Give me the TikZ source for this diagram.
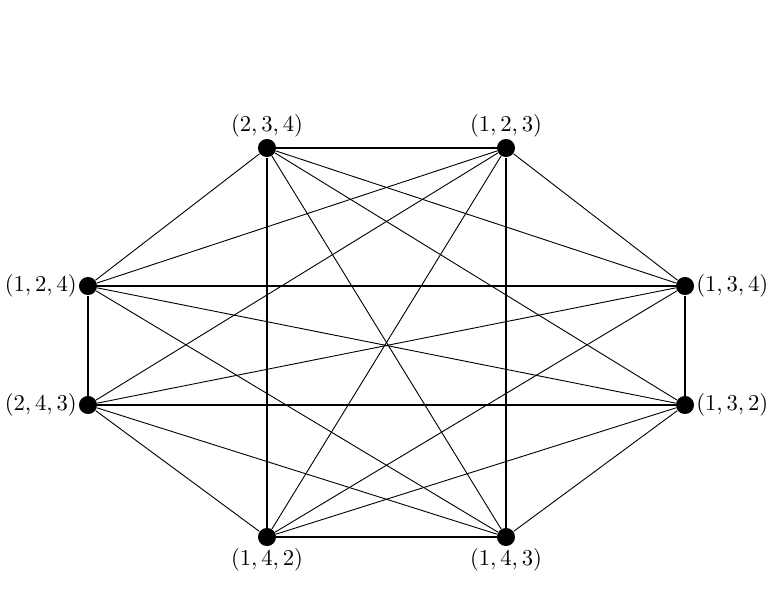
\documentclass[tikz,border=0pt]{standalone}
\usetikzlibrary{positioning}
\tikzset{vtx/.style={circle,fill=black,inner sep=0pt,minimum size=2.8mm},
 lab/.style={inner sep=0.6pt,font=\normalsize},
 rect/.style={thick}}
\begin{document}
\begin{tikzpicture}[x=0.1548mm,y=-0.1548mm]
\useasboundingbox (0,0) rectangle (777,592);
% vertices of the graph
\foreach \n/\x/\y/\p/\t in {v234/267/148/above/{2,3,4},v123/506/148/above/{1,2,3},
 v124/88/286/left/{1,2,4},v134/685/286/right/{1,3,4},v243/88/405/left/{2,4,3},
 v132/685/405/right/{1,3,2},v142/267/537/below/{1,4,2},v143/506/537/below/{1,4,3}}
 {\node[vtx,label={[lab]\p:$(\t)$}] (\n) at (\x,\y) {};}
% the two rectangles
\draw[rect] (v234)--(v123)--(v143)--(v142)--(v234);
\draw[rect] (v124)--(v134)--(v132)--(v243)--(v124);
% the other edges
\foreach \a/\b in {v234/v124,v234/v134,v234/v132,v234/v143,v123/v124,v123/v134,
 v123/v243,v123/v142,v124/v132,v124/v143,v243/v134,v243/v142,v243/v143,
 v142/v134,v142/v132,v143/v132}
 \draw (\a)--(\b);
\end{tikzpicture}
\end{document}
